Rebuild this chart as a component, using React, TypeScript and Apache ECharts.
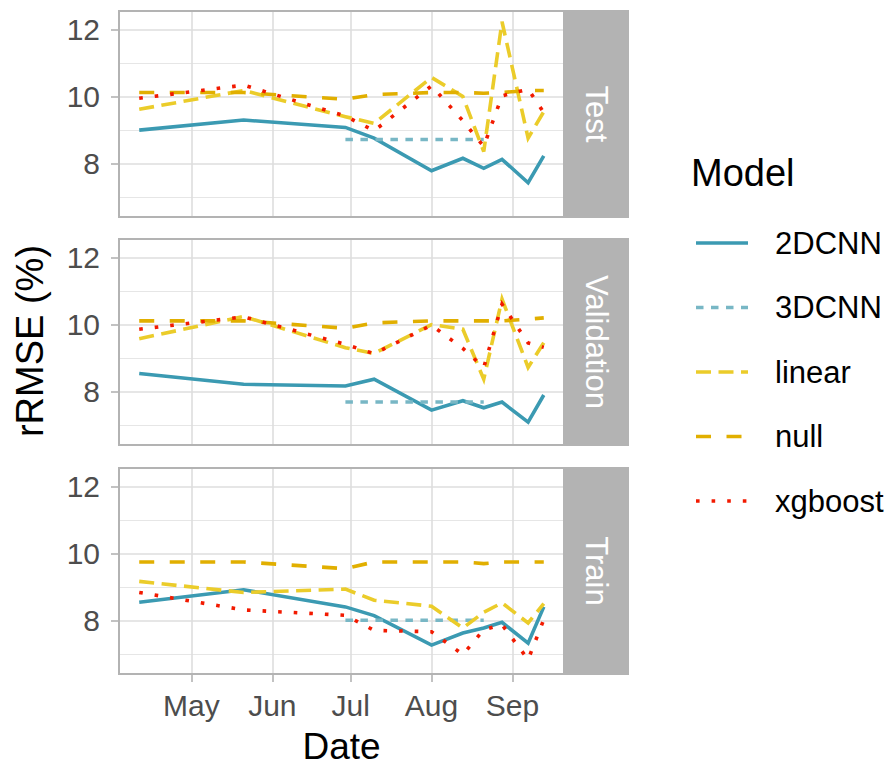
import React, { useEffect, useRef } from "react";
import * as echarts from "echarts";

// ---------- data ----------
const dates = [
  "2021-04-11", "2021-05-21", "2021-06-29", "2021-07-10", "2021-08-01",
  "2021-08-13", "2021-08-21", "2021-08-28", "2021-09-07", "2021-09-13",
];
const panels = ["Test", "Validation", "Train"];
const models = ["2DCNN", "3DCNN", "linear", "null", "xgboost"];
const monthNames = ["Jan", "Feb", "Mar", "Apr", "May", "Jun", "Jul", "Aug", "Sep", "Oct", "Nov", "Dec"];
const yTickLabels = [8, 10, 12];

const test2DCNN = [9.0, 9.3, 9.08, 8.76, 7.79, 8.16, 7.86, 8.13, 7.43, 8.23];
const test3DCNN = [null, null, 8.72, 8.72, 8.72, 8.72, 8.72, null, null, null];
const testLinear = [9.62, 10.18, 9.4, 9.2, 10.57, 10.0, 8.36, 12.23, 8.76, 9.55];
const testNull = [10.12, 10.12, 9.92, 10.06, 10.12, 10.12, 10.1, 10.12, 10.18, 10.18];
const testXgboost = [9.95, 10.34, 9.42, 8.98, 10.32, 9.28, 8.51, 10.02, 10.22, 9.52];

const val2DCNN = [8.54, 8.22, 8.17, 8.37, 7.45, 7.73, 7.52, 7.69, 7.09, 7.9];
const val3DCNN = [null, null, 7.69, 7.69, 7.69, 7.69, 7.69, null, null, null];
const valLinear = [9.58, 10.24, 9.31, 9.14, 10.0, 9.86, 8.37, 10.76, 8.72, 9.46];
const valNull = [10.11, 10.11, 9.89, 10.05, 10.11, 10.11, 10.11, 10.11, 10.16, 10.2];
const valXgboost = [9.86, 10.23, 9.41, 9.13, 9.98, 9.29, 8.72, 10.61, 9.45, 9.32];

const train2DCNN = [8.55, 8.92, 8.41, 8.15, 7.27, 7.63, 7.78, 7.95, 7.33, 8.41];
const train3DCNN = [null, null, 8.01, 8.01, 8.01, 8.01, 8.01, null, null, null];
const trainLinear = [9.17, 8.84, 8.94, 8.61, 8.43, 7.78, 8.25, 8.53, 7.93, 8.51];
const trainNull = [9.75, 9.75, 9.55, 9.75, 9.75, 9.75, 9.7, 9.75, 9.75, 9.75];
const trainXgboost = [8.84, 8.32, 8.16, 7.71, 7.67, 6.99, 7.73, 7.88, 6.84, 8.03];

const panelData = [
  [test2DCNN, test3DCNN, testLinear, testNull, testXgboost],
  [val2DCNN, val3DCNN, valLinear, valNull, valXgboost],
  [train2DCNN, train3DCNN, trainLinear, trainNull, trainXgboost],
];

// ---------- styles ----------
const FONT = "'Liberation Sans', Arial, Helvetica, sans-serif";
const modelColors = ["#3B9AB2", "#78B7C5", "#EBCC2A", "#E1AF00", "#F21A00"];
const LW = 3.6;
const modelDash: (number[] | null)[] = [null, [7.5, 7.5], [15, 7.5], [15, 15.5], [3.6, 12]];

const GRID_LEFT = 119;
const GRID_W = 445;
const GRID_H = 206;
const gridTops = [11, 239, 468];
const STRIP_X = 564;
const STRIP_W = 65;

const toMs = (s: string) => Date.parse(s + "T00:00:00Z");

const monthLabel = (v: number) => {
  const d = new Date(v);
  if (d.getUTCDate() === 1 && d.getUTCHours() === 0) return monthNames[d.getUTCMonth()];
  return "";
};

export default function App() {
  const ref = useRef<HTMLDivElement>(null);

  useEffect(() => {
    if (!ref.current) return;
    const chart = echarts.init(ref.current, undefined, { renderer: "svg" });

    const xs = dates.map(toMs);
    const span = xs[xs.length - 1] - xs[0];
    const xMin = xs[0] - 0.05 * span;
    const xMax = xs[xs.length - 1] + 0.05 * span;
    const yMin = 6.41;
    const yMax = 12.55;

    const grids = gridTops.map((top) => ({
      left: GRID_LEFT,
      top,
      width: GRID_W,
      height: GRID_H,
      containLabel: false,
    }));

    const xAxes = panels.map((_, i) => ({
      type: "time",
      gridIndex: i,
      min: xMin,
      max: xMax,
      splitNumber: 5,
      axisLine: { show: false },
      axisTick: {
        show: i === 2,
        length: 8,
        lineStyle: { color: "#B3B3B3", width: 1.6 },
      },
      axisLabel: {
        show: i === 2,
        hideOverlap: false,
        showMinLabel: false,
        showMaxLabel: false,
        formatter: monthLabel,
        fontSize: 30,
        fontFamily: FONT,
        color: "#4D4D4D",
        margin: 16,
      },
      splitLine: { show: true, lineStyle: { color: "#DEDEDE", width: 1.6 } },
    }));

    const yAxes = panels.map((_, i) => ({
      type: "value",
      gridIndex: i,
      min: yMin,
      max: yMax,
      splitNumber: 3,
      minInterval: 2,
      maxInterval: 2,
      axisLine: { show: false },
      axisTick: {
        show: true,
        length: 8,
        lineStyle: { color: "#B3B3B3", width: 1.6 },
      },
      axisLabel: {
        showMinLabel: false,
        showMaxLabel: false,
        formatter: (v: number) => (yTickLabels.indexOf(v) >= 0 ? String(v) : ""),
        fontSize: 30,
        fontFamily: FONT,
        color: "#4D4D4D",
        margin: 19,
      },
      splitLine: { show: true, lineStyle: { color: "#DEDEDE", width: 1.6 } },
      minorTick: { show: false, splitNumber: 2 },
      minorSplitLine: { show: true, lineStyle: { color: "#E6E6E6", width: 1 } },
    }));

    const series: any[] = [];
    panelData.forEach((pd, pi) => {
      pd.forEach((vals, mi) => {
        const data: [number, number][] = [];
        vals.forEach((v, k) => {
          if (v !== null && v !== undefined) data.push([xs[k], v as number]);
        });
        const dash = modelDash[mi];
        series.push({
          type: "line",
          name: models[mi],
          xAxisIndex: pi,
          yAxisIndex: pi,
          data,
          showSymbol: false,
          symbol: "none",
          z: 2 + mi,
          lineStyle: {
            color: modelColors[mi],
            width: LW,
            type: dash ? dash : "solid",
            cap: "butt",
            join: "miter",
          },
          emphasis: { disabled: true },
        });
      });
    });

    const graphic: any[] = [];
    gridTops.forEach((top) => {
      graphic.push({
        type: "rect",
        z: 50,
        shape: { x: GRID_LEFT, y: top, width: GRID_W, height: GRID_H },
        style: { fill: "none", stroke: "#B3B3B3", lineWidth: 2 },
      });
    });
    gridTops.forEach((top, i) => {
      graphic.push({
        type: "rect",
        z: 40,
        shape: { x: STRIP_X, y: top - 1, width: STRIP_W, height: GRID_H + 2 },
        style: { fill: "#B3B3B3" },
      });
      graphic.push({
        type: "text",
        z: 60,
        x: STRIP_X + STRIP_W / 2,
        y: top + GRID_H / 2,
        rotation: -Math.PI / 2,
        style: {
          text: panels[i],
          fill: "#FFFFFF",
          fontSize: 31,
          fontFamily: FONT,
          align: "center",
          verticalAlign: "middle",
        },
      });
    });
    graphic.push({
      type: "text",
      z: 60,
      x: 30,
      y: 341,
      rotation: Math.PI / 2,
      style: {
        text: "rRMSE (%)",
        fill: "#000000",
        fontSize: 38,
        fontFamily: FONT,
        align: "center",
        verticalAlign: "middle",
      },
    });
    graphic.push({
      type: "text",
      z: 60,
      x: GRID_LEFT + GRID_W / 2,
      y: 746,
      style: {
        text: "Date",
        fill: "#000000",
        fontSize: 37,
        fontFamily: FONT,
        align: "center",
        verticalAlign: "middle",
      },
    });
    graphic.push({
      type: "text",
      z: 60,
      x: 691,
      y: 173,
      style: {
        text: "Model",
        fill: "#000000",
        fontSize: 38,
        fontFamily: FONT,
        align: "left",
        verticalAlign: "middle",
      },
    });
    const legendY = [243, 307.5, 372, 436.5, 501];
    models.forEach((m, i) => {
      const dash = modelDash[i];
      graphic.push({
        type: "line",
        z: 60,
        shape: { x1: 696, y1: legendY[i], x2: 748, y2: legendY[i] },
        style: {
          stroke: modelColors[i],
          lineWidth: LW,
          lineDash: dash ? dash : null,
          lineCap: "butt",
        },
      });
      graphic.push({
        type: "text",
        z: 60,
        x: 775,
        y: legendY[i],
        style: {
          text: m,
          fill: "#000000",
          fontSize: 31,
          fontFamily: FONT,
          align: "left",
          verticalAlign: "middle",
        },
      });
    });

    chart.setOption({
      animation: false,
      useUTC: true,
      backgroundColor: "#FFFFFF",
      textStyle: { fontFamily: FONT },
      grid: grids,
      xAxis: xAxes,
      yAxis: yAxes,
      series,
      graphic,
    });

    return () => {
      chart.dispose();
    };
  }, []);

  return (
    <div
      ref={ref}
      style={{ position: "absolute", left: 0, top: 0, width: 893, height: 768 }}
    />
  );
}
